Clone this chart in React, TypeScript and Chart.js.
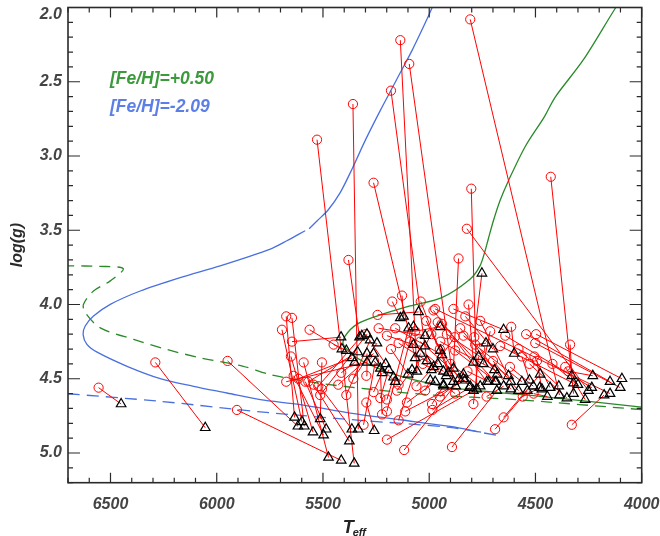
import React, { useEffect, useRef } from 'react';
import { Chart, registerables } from 'chart.js';

Chart.register(...registerables);

// ---- Stars: initial (circle) and revised (triangle) parameters ----
const circleTeff = [6556, 6289, 5949, 5905, 5528, 5359, 5136, 5094, 5180, 5262,
  4807, 4802, 4823, 4428, 4862, 4788, 5380, 4614, 4886, 4815,
  4544, 4497, 4501, 4337, 4360, 4345, 4564, 4505, 4493, 4528,
  4509, 4690, 4650, 4329, 4893, 4878, 4792, 5118, 5199, 4985,
  5309, 5113, 5144, 5199, 5222, 5144, 5262, 5230, 5199, 5152,
  5105, 5019, 4987, 5243, 5238, 5160, 5199, 5144, 5128, 4980,
  4940, 4917, 4854, 4839, 4784, 4972, 5673, 5646, 5693, 5651,
  5591, 5638, 5583, 5544, 5505, 5563, 5646, 5505, 5450, 5296,
  5414, 5522, 5513, 5390, 5357, 5569, 5296, 5428, 5616, 5673,
  5014, 5042, 4948, 4760, 4878, 4666, 4642, 4713, 5066, 5174,
  5040, 4990, 4950, 5090, 5030, 4900, 4820, 4700, 4620, 4580,
  4420, 4960, 5180, 5260, 5300, 4880, 4760, 4950, 4730, 4560,
  5060, 4830];
const circleLogg = [4.56, 4.39, 4.38, 4.71, 2.89, 2.65, 2.22, 2.38, 2.56, 3.18,
  2.08, 3.22, 3.49, 3.14, 3.69, 4.22, 3.70, 4.15, 4.03, 4.00,
  4.20, 4.20, 4.26, 4.27, 4.42, 4.45, 4.35, 4.35, 4.38, 4.40,
  4.60, 4.84, 4.76, 4.81, 4.96, 4.60, 4.67, 4.98, 4.91, 4.71,
  4.81, 4.72, 4.78, 4.72, 4.74, 4.54, 4.59, 4.63, 4.64, 4.58,
  4.66, 4.58, 4.67, 4.07, 4.16, 4.16, 4.21, 4.26, 3.94, 4.04,
  4.13, 4.20, 4.16, 4.21, 4.27, 4.03, 4.08, 4.09, 4.17, 4.35,
  4.39, 4.48, 4.52, 4.54, 4.57, 4.17, 4.25, 4.39, 4.27, 4.66,
  4.46, 4.55, 4.61, 4.61, 4.50, 4.52, 4.48, 4.54, 4.50, 4.52,
  4.11, 4.25, 4.25, 4.11, 4.31, 4.28, 4.21, 4.18, 4.18, 3.98,
  3.98, 4.20, 4.30, 4.25, 4.40, 4.40, 4.45, 4.38, 4.42, 4.30,
  4.40, 4.12, 4.30, 4.38, 4.20, 4.22, 4.30, 4.62, 4.62, 4.62,
  4.55, 4.08];
const triangleTeff = [6450, 6054, 5618, 5414, 5353, 5334, 5058, 4886, 5011, 5066,
  4387, 4776, 4251, 4321, 4886, 4752, 5328, 4600, 4650, 4792,
  4149, 4093, 4101, 4329, 4266, 4230, 4528, 4431, 4470, 4352,
  4444, 4538, 4478, 4177, 4682, 4933, 4768, 4839, 4792, 4810,
  5254, 4831, 5042, 5097, 5230, 5074, 5222, 5191, 5168, 5081,
  4972, 4995, 4933, 5050, 5019, 4940, 5074, 4933, 5121, 4729,
  4690, 4627, 4616, 4564, 4733, 4149, 5634, 5588, 5599, 5547,
  5474, 5497, 5485, 5376, 5364, 5411, 5415, 5513, 5390, 5259,
  5351, 5317, 5293, 5278, 5246, 5337, 5293, 5262, 5364, 5293,
  4948, 4807, 4693, 4616, 4685, 4321, 4235, 4745, 4948, 5136,
  4910, 4860, 4875, 4960, 4920, 4760, 4720, 4580, 4510, 4390,
  4300, 5020, 5100, 5160, 5205, 4990, 4680, 4840, 4650, 4480,
  4980, 4700];
const triangleLogg = [4.67, 4.83, 4.82, 5.05, 5.07, 4.84, 4.45, 4.52, 4.38, 4.36,
  4.61, 4.57, 4.58, 4.60, 4.43, 3.79, 4.22, 4.33, 4.17, 4.39,
  4.52, 4.50, 4.56, 4.48, 4.64, 4.48, 4.51, 4.56, 4.57, 4.63,
  4.62, 4.58, 4.47, 4.61, 4.58, 4.54, 4.35, 4.47, 4.58, 4.56,
  4.39, 4.51, 4.33, 4.16, 4.43, 4.15, 4.46, 4.44, 4.49, 4.44,
  4.52, 4.51, 4.55, 4.05, 4.21, 4.34, 4.27, 4.45, 4.08, 4.52,
  4.52, 4.48, 4.57, 4.52, 4.26, 4.60, 4.76, 4.82, 4.79, 4.86,
  5.03, 4.88, 4.84, 4.92, 4.84, 4.30, 4.22, 4.77, 4.31, 4.85,
  4.39, 4.21, 4.20, 4.24, 4.26, 4.32, 4.33, 4.33, 4.36, 4.39,
  4.31, 4.55, 4.44, 4.52, 4.52, 4.53, 4.56, 4.40, 4.15, 4.09,
  4.46, 4.50, 4.55, 4.40, 4.48, 4.55, 4.52, 4.58, 4.55, 4.55,
  4.54, 4.28, 4.47, 4.52, 4.40, 4.44, 4.47, 4.50, 4.55, 4.56,
  4.42, 4.30];

// ---- Isochrones ----
// [Fe/H] = -2.09 (blue): solid lower branch, solid upper branch, dashed binary sequence
const poorLowerTeff = [4756, 4902, 5137, 5372, 5607, 5795, 5952, 6109, 6266, 6422, 6563, 6611, 6629, 6619, 6580, 6501, 6360, 6172, 5984, 5748, 5670, 5584];
const poorLowerLogg = [4.86, 4.821, 4.776, 4.731, 4.674, 4.641, 4.596, 4.551, 4.499, 4.416, 4.321, 4.269, 4.201, 4.145, 4.078, 3.999, 3.909, 3.819, 3.740, 3.627, 3.571, 3.503];
const poorUpperTeff = [5565, 5527, 5475, 5419, 5362, 5301, 5230, 5155, 5080, 5019, 4986, 4976];
const poorUpperLogg = [3.490, 3.436, 3.362, 3.247, 3.084, 2.895, 2.693, 2.490, 2.287, 2.105, 2.000, 1.963];
const poorDashTeff = [6700, 6266, 5795, 5325, 4902, 4676];
const poorDashLogg = [4.601, 4.652, 4.723, 4.780, 4.828, 4.882];
// [Fe/H] = +0.50 (green)
const richSolidTeff = [4000, 4478, 4902, 5011, 5137, 5246, 5341, 5404, 5396, 5341, 5246, 5090, 4941, 4808, 4761, 4737, 4722, 4698, 4667, 4627, 4548, 4459, 4407, 4276, 4122, 4100];
const richSolidLogg = [4.691, 4.618, 4.562, 4.528, 4.483, 4.427, 4.359, 4.269, 4.213, 4.134, 4.078, 4.010, 3.954, 3.830, 3.740, 3.638, 3.559, 3.436, 3.301, 3.166, 2.936, 2.738, 2.603, 2.355, 2.000, 1.960];
const richDashTeff = [4000, 4588, 5011, 5262, 5529, 5748, 5875, 6078, 6234, 6391, 6548, 6619, 6627, 6580, 6501, 6440, 6548, 6700];
const richDashLogg = [4.708, 4.641, 4.607, 4.573, 4.528, 4.472, 4.416, 4.359, 4.303, 4.235, 4.157, 4.055, 3.999, 3.909, 3.841, 3.759, 3.743, 3.740];

// ---- Axes ----
const xMin = 4000, xMax = 6700;
const yMin = 2.0, yMax = 5.2;
const xMajorTicks = [4000, 4500, 5000, 5500, 6000, 6500];
const yMajorTicks = [2.0, 2.5, 3.0, 3.5, 4.0, 4.5, 5.0];
const legendLabels = ['[Fe/H]=+0.50', '[Fe/H]=-2.09'];

const FONT = "'Liberation Sans', Arial, Helvetica, sans-serif";
const GREEN = '#2a8a2a';
const BLUE = '#4a70e0';

const toXY = (t: number[], g: number[]) => t.map((v, i) => ({ x: v, y: g[i] }));

const framePlugin = {
  id: 'idlFrame',
  afterDatasetsDraw(chart: any) {
    const { ctx, chartArea: a, scales } = chart;
    const xs = scales.x, ys = scales.y;
    ctx.save();
    ctx.strokeStyle = '#2a2a2a';
    ctx.lineWidth = 1.6;
    ctx.strokeRect(a.left, a.top, a.right - a.left, a.bottom - a.top);
    ctx.lineWidth = 1.2;
    ctx.beginPath();
    for (let k = Math.round(xMin / 100); k <= Math.round(xMax / 100); k++) {
      const v = k * 100;
      const px = xs.getPixelForValue(v);
      const len = v % 500 === 0 ? 10 : 5;
      ctx.moveTo(px, a.bottom); ctx.lineTo(px, a.bottom - len);
      ctx.moveTo(px, a.top); ctx.lineTo(px, a.top + len);
    }
    for (let k = Math.round(yMin * 10); k <= Math.round(yMax * 10); k++) {
      const v = k / 10;
      const py = ys.getPixelForValue(v);
      const len = k % 5 === 0 ? 12 : 5;
      ctx.moveTo(a.left, py); ctx.lineTo(a.left + len, py);
      ctx.moveTo(a.right, py); ctx.lineTo(a.right - len, py);
    }
    ctx.stroke();

    // isochrone labels
    ctx.font = `italic bold 17.5px ${FONT}`;
    ctx.textBaseline = 'middle';
    ctx.textAlign = 'left';
    ctx.fillStyle = '#3c9a3c';
    ctx.fillText(legendLabels[0], 110, 79);
    ctx.fillStyle = '#5b7fe6';
    ctx.fillText(legendLabels[1], 110, 107);

    // x title T_eff
    const cx = (a.left + a.right) / 2;
    ctx.fillStyle = '#222';
    ctx.textBaseline = 'alphabetic';
    ctx.font = `italic bold 18px ${FONT}`;
    const tw = ctx.measureText('T').width;
    ctx.font = `italic bold 11px ${FONT}`;
    const ew = ctx.measureText('eff').width;
    const x0 = cx - (tw + ew) / 2;
    ctx.font = `italic bold 18px ${FONT}`;
    ctx.fillText('T', x0, 533);
    ctx.font = `italic bold 11px ${FONT}`;
    ctx.fillText('eff', x0 + tw - 1, 536);
    ctx.restore();
  },
};

export default function App() {
  const ref = useRef<HTMLCanvasElement | null>(null);
  useEffect(() => {
    if (!ref.current) return;
    const links: any[] = [];
    circleTeff.forEach((t, i) => {
      links.push({ x: t, y: circleLogg[i] });
      links.push({ x: triangleTeff[i], y: triangleLogg[i] });
      links.push({ x: null, y: null });
    });
    const iso = (t: number[], g: number[], color: string, dash: number[]) => ({
      type: 'line',
      data: toXY(t, g),
      borderColor: color,
      borderWidth: 1.3,
      borderDash: dash,
      pointRadius: 0,
      tension: 0.3,
      fill: false,
    });
    const chart = new Chart(ref.current, {
      type: 'scatter',
      data: {
        datasets: [
          {
            data: toXY(triangleTeff, triangleLogg),
            pointStyle: 'triangle',
            pointRadius: 5.5,
            borderColor: '#000',
            borderWidth: 1.2,
            backgroundColor: 'rgba(0,0,0,0)',
          },
          {
            data: toXY(circleTeff, circleLogg),
            pointStyle: 'circle',
            pointRadius: 4.6,
            borderColor: '#ff0000',
            borderWidth: 1,
            backgroundColor: 'rgba(0,0,0,0)',
          },
          {
            type: 'line',
            data: links,
            borderColor: '#ff0000',
            borderWidth: 1,
            pointRadius: 0,
            tension: 0,
            spanGaps: false,
            fill: false,
          },
          iso(poorLowerTeff, poorLowerLogg, BLUE, []),
          iso(poorUpperTeff, poorUpperLogg, BLUE, []),
          iso(poorDashTeff, poorDashLogg, BLUE, [12, 7]),
          iso(richSolidTeff, richSolidLogg, GREEN, []),
          iso(richDashTeff, richDashLogg, GREEN, [11, 7]),
        ] as any,
      },
      options: {
        animation: false,
        responsive: false,
        maintainAspectRatio: false,
        layout: { padding: { left: 0, top: 7.5, right: 18.3, bottom: 0 } },
        plugins: { legend: { display: false }, tooltip: { enabled: false } },
        scales: {
          x: {
            type: 'linear',
            reverse: true,
            min: xMin,
            max: xMax,
            grid: { display: false, drawTicks: false },
            border: { display: false },
            afterBuildTicks: (s: any) => { s.ticks = xMajorTicks.map((v) => ({ value: v })); },
            afterFit: (s: any) => { s.height = 53.3; s.paddingLeft = 0; s.paddingRight = 0; },
            ticks: {
              autoSkip: false,
              maxRotation: 0,
              padding: 12,
              color: '#444',
              font: { family: FONT, size: 16, weight: 'bold', style: 'italic' },
              callback: (v: any) => String(v),
            },
          },
          y: {
            type: 'linear',
            reverse: true,
            min: yMin,
            max: yMax,
            grid: { display: false, drawTicks: false },
            border: { display: false },
            afterBuildTicks: (s: any) => { s.ticks = yMajorTicks.map((v) => ({ value: v })); },
            afterFit: (s: any) => { s.width = 68; s.paddingTop = 0; s.paddingBottom = 0; },
            title: {
              display: true,
              text: 'log(g)',
              color: '#2a2a2a',
              padding: { top: 8, bottom: 0 },
              font: { family: FONT, size: 16, weight: 'bold', style: 'italic' },
            },
            ticks: {
              autoSkip: false,
              padding: 6,
              color: '#444',
              font: { family: FONT, size: 16, weight: 'bold', style: 'italic', lineHeight: '14px' },
              callback: (v: any) => (Math.abs(v - 2) < 1e-6 ? ['', '2.0'] : Number(v).toFixed(1)),
            },
          },
        },
      } as any,
      plugins: [framePlugin],
    });
    return () => chart.destroy();
  }, []);

  return (
    <div style={{ position: 'fixed', left: 0, top: 0, width: 660, height: 536, background: '#fff' }}>
      <canvas ref={ref} width={660} height={536} style={{ width: 660, height: 536 }} />
    </div>
  );
}
